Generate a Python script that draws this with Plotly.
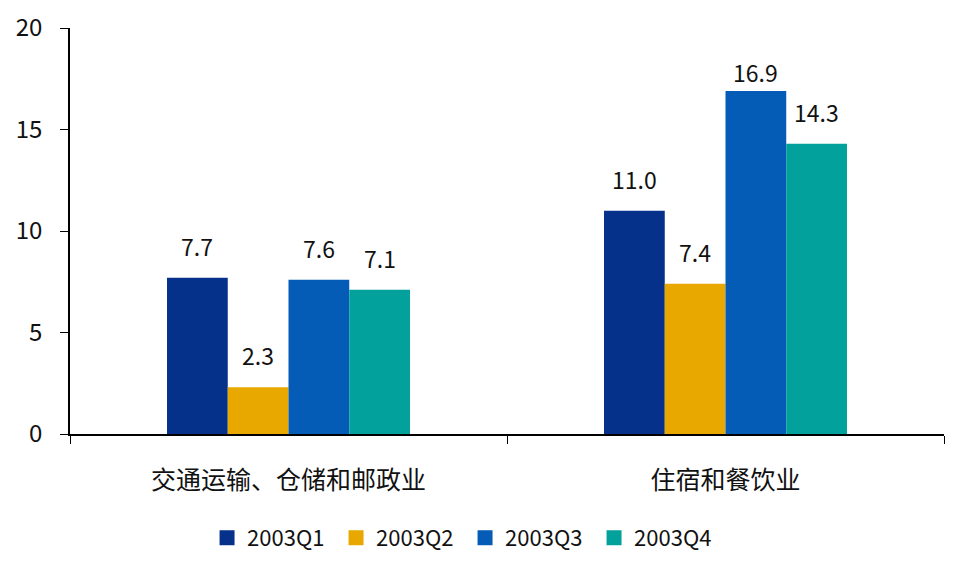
import plotly.graph_objects as go

categories = ["交通运输、仓储和邮政业", "住宿和餐饮业"]
series_names = ["2003Q1", "2003Q2", "2003Q3", "2003Q4"]
q1 = [7.7, 11.0]
q2 = [2.3, 7.4]
q3 = [7.6, 16.9]
q4 = [7.1, 14.3]
colors = ["#06318a", "#e8a800", "#055cb6", "#02a19c"]
y_ticks = [0, 5, 10, 15, 20]

series = [q1, q2, q3, q4]
FONT = "Noto Sans CJK SC"
bargap = 0.444

fig = go.Figure()
for name, vals, c in zip(series_names, series, colors):
    fig.add_trace(go.Bar(x=categories, y=vals, name=name, marker=dict(color=c, line=dict(width=0)),
                         showlegend=False))
    fig.add_trace(go.Scatter(x=[None], y=[None], mode="markers", name=name,
                             marker=dict(symbol="square", size=15, color=c)))

bw = (1 - bargap) / len(series)
annotations = []
for j, vals in enumerate(series):
    for i, v in enumerate(vals):
        shift = 13 if v < 16 else 0
        annotations.append(dict(x=i + (j - 1.5) * bw, y=v, xref="x", yref="y",
                                text=f"{v:.1f}", showarrow=False, yanchor="bottom",
                                yshift=shift, font=dict(size=23, color="#111", family=FONT)))

fig.update_layout(
    width=958, height=569,
    margin=dict(l=62, r=22, t=20, b=143, autoexpand=False),
    paper_bgcolor="white", plot_bgcolor="white",
    barmode="group", bargap=bargap, bargroupgap=0,
    font=dict(family=FONT, size=24, color="#111"),
    annotations=annotations,
    legend=dict(orientation="h", x=0.452, xanchor="center", y=-0.256, yanchor="middle",
                font=dict(size=22, family=FONT), itemwidth=30, tracegroupgap=0,
                entrywidth=84, entrywidthmode="pixels"),
    xaxis=dict(type="category", showline=True, linecolor="black", linewidth=1.5,
               ticks="outside", ticklen=8, tickcolor="black", tickson="boundaries",
               tickfont=dict(size=25), ticklabelstandoff=23, showgrid=False, automargin=False),
    yaxis=dict(range=[0, 20], tickvals=y_ticks, showline=True, linecolor="black", linewidth=1.5,
               ticks="outside", ticklen=8, tickcolor="black", showgrid=False, zeroline=False,
               tickfont=dict(size=24), ticklabelstandoff=13, automargin=False),
)

fig.write_html("out.html")
